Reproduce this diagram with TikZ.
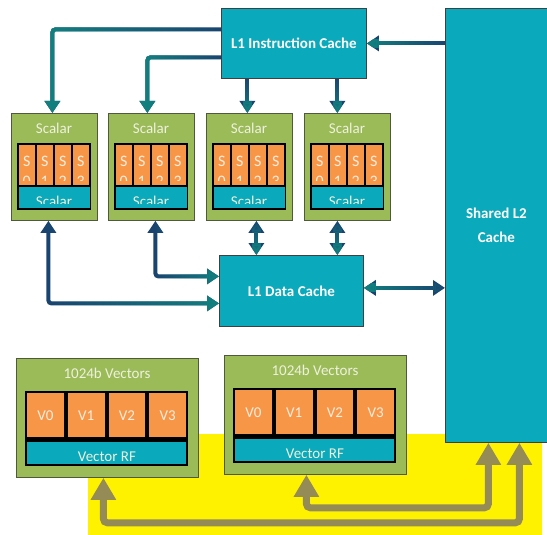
\documentclass[tikz,border=0pt]{standalone}
\usepackage{fontspec}
\setmainfont{Carlito}
\usetikzlibrary{arrows.meta,fadings}
\definecolor{grn}{HTML}{9BBB59}
\definecolor{grnline}{HTML}{4F5A3C}
\definecolor{org}{HTML}{F79646}
\definecolor{cyn}{HTML}{0AA9BB}
\definecolor{dblue}{HTML}{1A4470}
\definecolor{tealc}{HTML}{11807F}
\definecolor{olive}{HTML}{958B57}
\definecolor{ltxt}{HTML}{EEF1DC}
\definecolor{ctxt}{HTML}{FBEDE0}
\begin{document}
\begin{tikzpicture}[x=1pt,y=-1pt,
  gbox/.style={draw=grnline, line width=0.8pt, fill=grn, inner sep=0pt, anchor=north west},
  cbox/.style={draw=black!75, line width=0.8pt, fill=cyn, inner sep=0pt, anchor=north west,
    text=white, font=\fontsize{15}{18}\selectfont\bfseries, align=center},
  frm/.style={fill=black, inner sep=0pt, anchor=north west},
  cell/.style={fill=org, inner sep=0pt, anchor=north west},
  bar/.style={fill=cyn, inner sep=0pt, anchor=north west},
  ttl/.style={text=ltxt, font=\fontsize{15}{18}\selectfont, inner sep=0pt},
  ctx/.style={text=ctxt, font=\fontsize{15}{18}\selectfont, inner sep=0pt, anchor=base},
  stx/.style={text=ctxt, font=\fontsize{16}{18}\selectfont, inner sep=0pt, anchor=base},
  btx/.style={text=ltxt, font=\fontsize{15}{18}\selectfont, inner sep=0pt, anchor=base},
  bl/.style={draw=dblue, line width=4pt, rounded corners=3pt,
    postaction={draw=tealc, path fading=#1}},
  oar/.style={draw=olive, line width=7pt, rounded corners=4pt,
    {Triangle[width=24pt,length=22pt]}-{Triangle[width=24pt,length=22pt]}},
  tip/.style={-{Triangle[width=15pt,length=12pt]}},
  dtip/.style={{Triangle[width=15pt,length=12pt]}-{Triangle[width=15pt,length=12pt]}}
]
\useasboundingbox (0,0) rectangle (547,535);
\fill[yellow] (88,434) rectangle (542,535);

% caches
\node[cbox, minimum width=102pt, minimum height=434pt] (L2) at (445,8) {Shared L2\\[6pt]Cache};
\node[cbox, minimum width=145pt, minimum height=70pt] (L1I) at (221,8) {L1 Instruction Cache};
\node[cbox, minimum width=144pt, minimum height=71pt] (L1D) at (219,255) {L1 Data Cache};

% scalar units
\foreach \i/\x in {1/11,2/108,3/206,4/304}{
  \node[gbox, minimum width=86pt, minimum height=107pt] (sc\i) at (\x,113) {};
  \node[ttl] (st\i) at (\x+43,128) {Scalar};
  \node[frm, minimum width=74pt, minimum height=67pt] (sf\i) at (\x+6,143) {};
  \foreach \j in {0,1,2,3}{
    \node[cell, minimum width=16.5pt, minimum height=40.5pt] (sc\i c\j) at (\x+7.5+\j*18,144.5) {};
    \begin{scope}
      \clip (\x+7.5+\j*18,144.5) rectangle ++(16.5,35.5);
      \node[stx] (sc\i s\j) at (\x+15.75+\j*18,166) {S};
      \node[stx] (sc\i d\j) at (\x+15.75+\j*18,186) {\j};
    \end{scope}
  }
  \node[bar, minimum width=71pt, minimum height=21pt] (sb\i) at (\x+7.5,187) {};
  \begin{scope}
    \clip (\x+7.5,187) rectangle ++(71,16.5);
    \node[btx] (sbt\i) at (\x+43,207) {Scalar};
  \end{scope}
}

% vector units
\foreach \i/\x/\y in {1/16/358,2/224/355}{
  \node[gbox, minimum width=182pt, minimum height=119pt] (vb\i) at (\x,\y) {};
  \node[ttl] (vt\i) at (\x+91,\y+15) {1024b Vectors};
  \node[frm, minimum width=163pt, minimum height=75pt] (vf\i) at (\x+9,\y+33) {};
  \foreach \j in {0,1,2,3}{
    \node[cell, minimum width=36.75pt, minimum height=44pt] (v\i c\j) at (\x+11+\j*40.75,\y+35) {};
    \node[ctx, anchor=center] (v\i t\j) at (\x+11+18.4+\j*40.75,\y+58) {V\j};
  }
  \node[bar, minimum width=159pt, minimum height=22pt] (vbar\i) at (\x+11,\y+84) {};
  \begin{scope}
    \clip (\x+11,\y+84) rectangle ++(159,18);
    \node[btx] (vbt\i) at (\x+91,\y+103) {Vector RF};
  \end{scope}
}

% blue / teal connectors
\draw[bl=east, tip] (L2.west |- L1I.east) -- (L1I.east);
\draw[bl=east, tip] ([yshift=14pt]L1I.west) -| ([xshift=-2pt]sc1.north);
\draw[bl=east, tip] ([yshift=-14pt]L1I.west) -| ([xshift=-4pt]sc2.north);
\draw[bl=north, tip] ([xshift=-2pt]sc3.north |- L1I.south) -- ([xshift=-2pt]sc3.north);
\draw[bl=north, tip] ([xshift=-10pt]sc4.north |- L1I.south) -- ([xshift=-10pt]sc4.north);
\draw[bl=north, dtip] ([xshift=7pt]sc3.south) -- ([xshift=7pt]sc3.south |- L1D.north);
\draw[bl=north, dtip] ([xshift=-10pt]sc4.south) -- ([xshift=-10pt]sc4.south |- L1D.north);
\draw[bl=west, dtip] ([xshift=-6pt]sc1.south) |- ([yshift=-12.5pt]L1D.west);
\draw[bl=west, dtip] ([xshift=4pt]sc2.south) |- ([yshift=14.5pt]L1D.west);
\draw[bl=east, dtip] ([yshift=3pt]L1D.east) -- ([yshift=3pt]L1D.east -| L2.west);

% olive connectors
\draw[oar] ([xshift=-9pt]vb2.south) -- ++(0,33) -| ([xshift=-8pt]L2.south);
\draw[oar] ([xshift=-4pt]vb1.south) -- ++(0,45) -| ([xshift=23pt]L2.south);
\end{tikzpicture}
\end{document}
